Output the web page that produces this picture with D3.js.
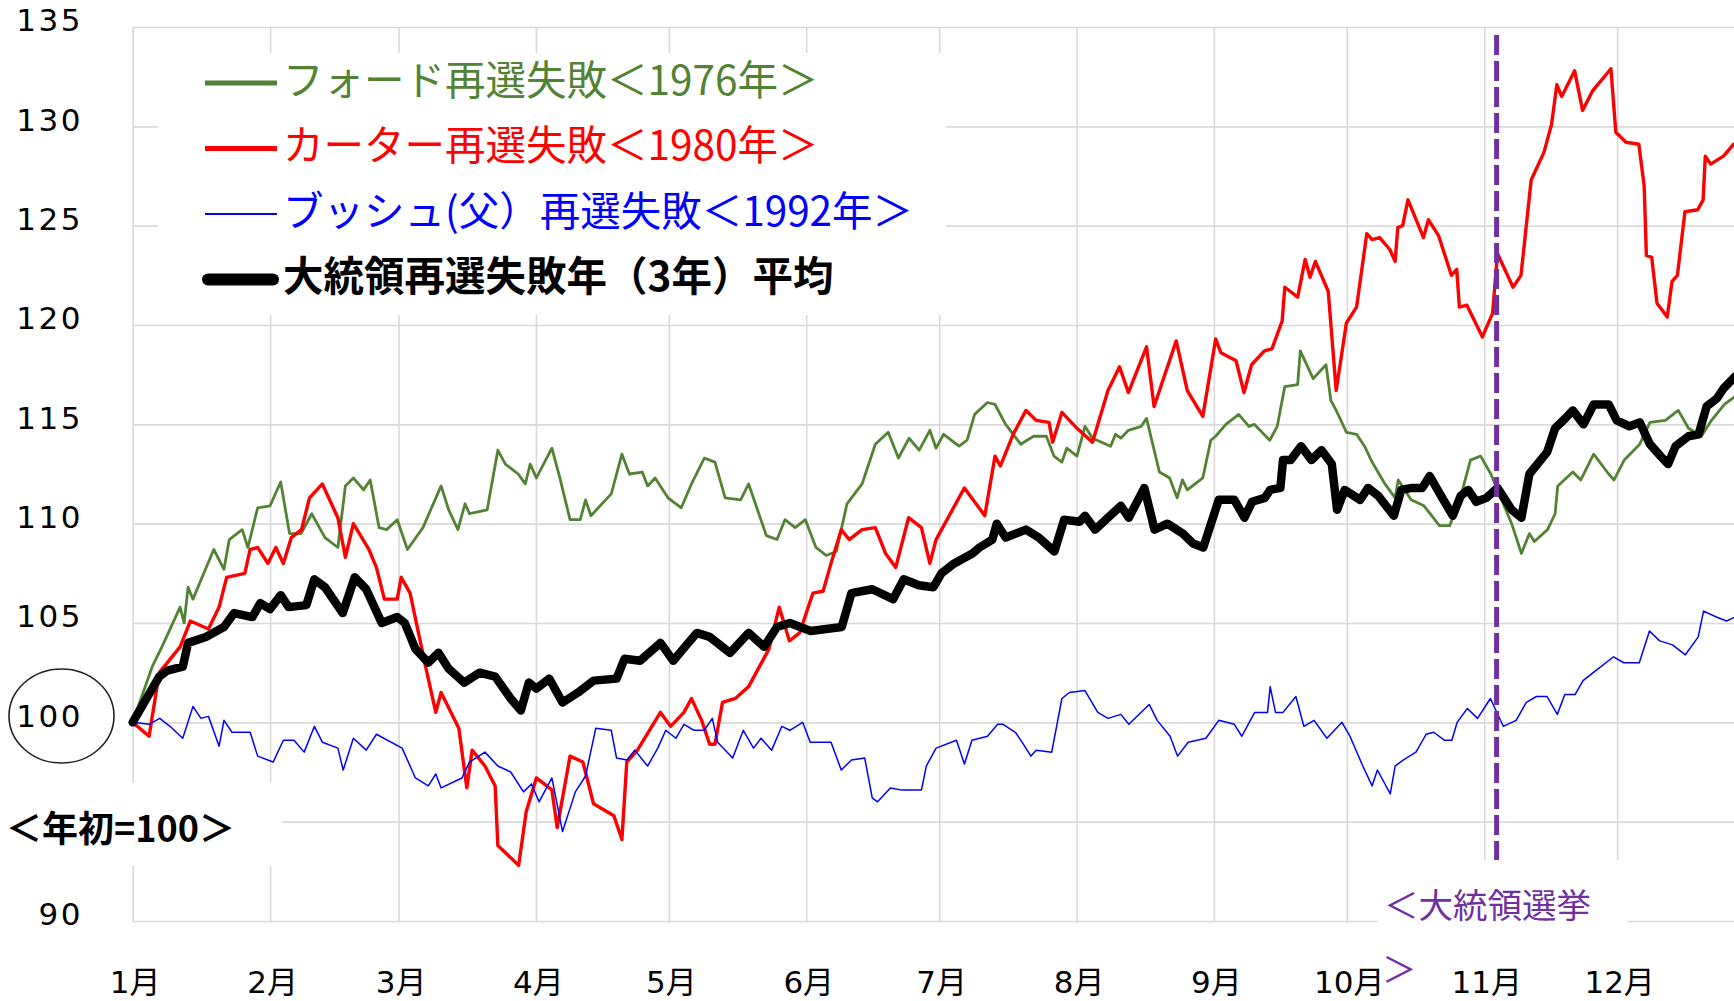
<!DOCTYPE html>
<html lang="ja">
<head>
<meta charset="utf-8">
<title>大統領再選失敗年の株価推移</title>
<script src="https://cdn.jsdelivr.net/npm/d3@7"></script>
<style>
  body { margin: 0; background: #fff; }
  svg { display: block; }
  .grid line { stroke: #d9d9d9; stroke-width: 1.6px; }
  .grid path { display: none; }
  .tick-label text { font-family: "DejaVu Sans", "Noto Sans CJK JP", sans-serif; font-size: 31px; fill: #000; }
  .legend text { font-family: "Noto Sans CJK JP", sans-serif; font-size: 40.5px; }
</style>
</head>
<body>
<svg id="chart" width="1734" height="1001"></svg>
<script>
// month ticks (day of year, leap years)
const monthLabels = ["1月", "2月", "3月", "4月", "5月", "6月", "7月", "8月", "9月", "10月", "11月", "12月"];
const monthStartDays = [0, 31, 60, 91, 121, 152, 182, 213, 244, 274, 305, 335];
const yGridTicks = [90, 95, 100, 105, 110, 115, 120, 125, 130, 135];
const yLabelTicks = [90, 100, 105, 110, 115, 120, 125, 130, 135];
const electionDay = 307.8;

// [day of year, index (start of year = 100)]
const ford1976 = [[0,100],[4.4,102.8],[6.6,103.8],[10.7,105.8],[11.6,105],[12.5,106.8],[13.6,106.2],[18.3,108.7],[20.6,107.7],[21.8,109.2],[24.7,109.7],[26,108.8],[28.2,110.8],[31,110.9],[33.4,112.1],[35.4,109.5],[38,109.5],[40.4,110.5],[43.4,109.3],[46.3,108.8],[48,111.9],[49.8,112.3],[52.1,111.7],[53.6,112.2],[55.6,109.8],[57.3,109.7],[59.7,110.2],[62,108.7],[65.5,109.8],[69.6,111.9],[71.3,110.7],[73.4,109.7],[75,111],[76,110.5],[80,110.7],[82.4,113.7],[84.1,113],[87,112.5],[88.6,112],[89.7,113],[91.1,112.3],[94.6,113.8],[96.4,112.3],[98.7,110.2],[101,110.2],[102.2,111.2],[103.4,110.4],[108,111.5],[110.4,113.5],[112.1,112.5],[115,112.6],[116.2,111.9],[117.9,112.3],[120.8,111.3],[123.8,110.8],[126.1,112],[129,113.3],[131.4,113.1],[133.7,111.3],[137.2,111.2],[139,112],[143,109.4],[145.4,109.2],[147.2,110.2],[149.5,109.8],[151.8,110.2],[154.2,108.8],[156.5,108.4],[158.8,108.6],[161.2,111],[164.6,112],[167.6,114],[170.5,114.6],[172.8,113.3],[175.2,114.3],[177.5,113.7],[179.9,114.7],[181.3,113.8],[183,114.5],[186.5,113.9],[188.3,114.2],[190,115.5],[192.9,116.1],[194.6,116],[197,115],[200.4,114],[203.3,114.4],[206.2,114.4],[207.9,113.4],[209.7,113.1],[210.8,113.8],[213.1,113.4],[214.9,114.9],[216.6,114.3],[220.7,113.9],[221.8,114.5],[223,114.3],[224.7,114.7],[227.6,114.9],[228.8,115.3],[231.7,112.6],[234,112.3],[235.7,111.3],[236.9,112.2],[238,111.7],[241.5,112.3],[243.3,114.2],[244.4,114.4],[246.7,115],[249.6,115.5],[251.9,114.9],[253.1,115],[256.6,114.2],[258.3,114.9],[260,116.9],[262.9,117],[263.5,118.7],[266.4,117.3],[269.3,118],[270.4,116.2],[271.6,115.7],[273.9,114.6],[276.2,114.5],[278,113.9],[279.7,113.1],[282.6,112],[284.9,111.3],[285.6,112.2],[288.5,111.2],[291.4,110.9],[294.9,109.9],[297.2,109.9],[299.5,111.2],[301.9,113.2],[304.2,113.4],[306.5,112.5],[308,111.7],[311.2,110],[313.4,108.5],[315.2,109.5],[316.3,109.1],[319.3,109.7],[321,110.5],[321.6,111.9],[325,112.6],[326.8,112.2],[329.7,113.5],[333.1,112.5],[334.3,112.2],[336.6,113.2],[340.1,114],[342.4,115.1],[345.9,115.2],[348.8,115.7],[351.1,114.8],[354,114.4],[356.3,115.2],[359.2,116],[361.6,116.4]];

const carter1980 = [[0,100],[3.7,99.3],[6,102.5],[10.7,103.8],[13,105.1],[17.1,104.7],[19.5,105.8],[21.2,107.3],[25.3,107.5],[26.5,108.7],[28.2,108.8],[30.5,108],[32.3,108.8],[34,108],[35.8,109.3],[38.1,109.7],[39.9,111.3],[42.8,112],[46.3,110.3],[48,108.3],[49.8,110],[53.3,108.7],[55,107.8],[56.8,106.2],[59.7,106.2],[60.6,107.3],[62.6,106.5],[66.1,102.8],[68.4,100.5],[69.6,101.5],[73.6,99.7],[75.4,96.7],[76.6,98.6],[79.5,97.8],[81.8,96.8],[82.4,93.8],[87.1,92.8],[88.8,95.5],[91.1,97.2],[94.6,96.6],[95.8,94.7],[98.7,98.3],[101.6,98],[104,95.9],[108.6,95.3],[110.4,94.1],[111.5,98],[113.9,98.6],[119.1,100.5],[121.4,99.8],[124.4,100.5],[126.1,101.2],[128.4,100.1],[130.2,98.9],[131.4,98.9],[133.1,101],[136,101.2],[139,101.8],[143.6,103.7],[145.9,105.8],[148.2,104.1],[150.5,104.5],[153.5,106.5],[155.8,106.6],[157.6,108],[159.9,109.7],[161.7,109.2],[164.6,109.7],[167.6,109.8],[169.9,108.5],[172.2,107.8],[175.1,110.3],[178,109.8],[179.9,108],[181.3,109.2],[187.7,111.8],[192.3,110.4],[194.6,113.4],[195.8,112.9],[198.7,114.5],[201.6,115.7],[203.9,115.2],[206.8,115.1],[207.6,114.1],[209.7,115.6],[213.1,114.8],[216.6,114.1],[220.1,116.7],[222.7,117.9],[224.7,116.6],[228.8,118.9],[230.5,115.9],[235.5,119.2],[238,116.7],[241.5,115.4],[244.4,119.3],[245.6,118.6],[249,118.2],[250.8,116.6],[252.5,118],[255.4,118.7],[257.1,118.8],[259.4,120.2],[260,121.9],[262.9,121.4],[264.6,123.3],[265.7,122.4],[266.9,123.2],[269.8,121.7],[271.6,116.7],[273.9,120.1],[276.2,120.9],[278.5,124.6],[279.7,124.3],[281.4,124.4],[283.7,123.8],[284.9,123.2],[285.5,124.9],[286.6,125],[287.8,126.3],[291.3,124.4],[292.4,125.3],[294.7,124.5],[297.6,122.5],[298.8,122.8],[299.4,120.9],[301.1,121],[304.6,119.4],[306.9,120.6],[308,123.6],[311.5,121.9],[313.3,122.5],[315.6,127.3],[318.5,128.7],[320.2,130.1],[321.4,132.1],[322.5,131.5],[325.4,132.8],[327.2,130.8],[329.5,131.8],[333.6,132.9],[334.7,129.7],[337,129.2],[339.9,129.1],[341.1,127],[341.6,123.5],[342.8,123.4],[344,121.1],[346.3,120.4],[347.4,122.2],[348.6,122.5],[350.3,125.7],[353.2,125.8],[354.4,126.3],[354.9,128.5],[356.1,128.1],[359,128.5],[361.3,129.1]];

const bush1992 = [[0,100],[3.7,99.9],[6.1,100.2],[8.4,99.8],[11.3,99.2],[13.6,100.8],[15.4,100.2],[17.1,100.3],[19.5,98.8],[20.6,100.1],[22.4,99.5],[26.5,99.5],[28.2,98.3],[31.7,98],[34,99.1],[36.4,99.1],[38.7,98.5],[41,99.8],[42.8,99],[46.3,98.7],[47.5,97.6],[49.8,99.2],[52.7,98.6],[55,99.4],[60.8,98.7],[63.8,97.2],[66.7,96.8],[68.4,97.4],[69.6,96.7],[74.3,97.2],[76,98],[79.5,98.5],[82.4,97.8],[85.3,97.5],[88.2,96.5],[90,96.9],[91.7,96],[94.6,97.2],[97,94.5],[99.9,96.5],[102.2,97.3],[104.5,99.7],[108,99.6],[109.2,98.2],[111.5,98.1],[113.3,98.6],[116.2,97.8],[118.5,98.7],[120.3,99.6],[122.6,99.2],[124.4,99.9],[126.7,99.6],[129,99.6],[130.8,100.2],[132,99],[135.4,98.2],[137.8,99.6],[140.1,98.7],[141.8,99.2],[144.2,98.6],[146.5,99.8],[148.3,99.6],[151.2,100],[152.9,99],[157.6,99],[159.9,97.6],[162.2,98.1],[165.2,98.2],[166.9,96.2],[168.1,96],[171,96.7],[173.3,96.6],[178,96.6],[179.1,97.8],[181.3,98.7],[185.9,99.1],[187.7,97.9],[189.4,99.1],[192.9,99.3],[195.2,99.9],[196.4,99.9],[199.2,99.5],[201,98.9],[202.7,98.3],[203.9,98.6],[207.4,98.5],[209.7,101.2],[211.4,101.5],[214.9,101.6],[217.8,100.5],[220.1,100.2],[223,100.4],[224.8,99.9],[229.4,100.9],[231.2,100.1],[234.1,99.3],[235.8,98.3],[238.2,99],[242.2,99.2],[245.1,100.1],[248.6,99.9],[250.3,99.3],[253.2,100.5],[256.1,100.5],[256.7,101.8],[257.9,100.5],[259.6,100.5],[262.5,101.3],[264.3,99.8],[266.6,100.1],[269.5,99.2],[272.9,100],[274.7,99.3],[277.6,97.8],[279.7,96.8],[280.9,97.6],[283.8,96.4],[284.9,97.8],[286.7,98.1],[289.6,98.5],[291.9,99.4],[293.6,99.5],[296,99.1],[297.7,99.1],[298.9,100],[301.2,100.7],[303.5,100.2],[306.4,101.2],[309.3,99.8],[312.2,100.1],[314.5,101],[316.8,101.3],[319.2,101.3],[321.5,100.4],[323.2,101.4],[325.5,101.4],[327.3,102.1],[329.6,102.5],[334.2,103.3],[336.5,103],[340,103],[342.3,104.6],[344.6,104.1],[347.5,103.9],[350.4,103.4],[353.3,104.3],[354.5,105.6],[357.4,105.3],[359.7,105.1],[361.6,105.3]];

const average3 = [[0,100],[2.6,101],[6,102.3],[7.8,102.6],[11.3,102.8],[12.5,104],[16.5,104.3],[20.6,104.8],[22.9,105.5],[27,105.3],[28.8,106],[31,105.7],[33.4,106.4],[35.2,105.8],[39.2,105.9],[41,107.2],[43.4,106.8],[47.4,105.5],[50.1,107.3],[52.7,106.7],[56.2,105],[59.7,105.3],[61.4,105],[63.8,103.7],[66.7,103],[69,103.5],[71.3,102.7],[74.8,102],[78.3,102.5],[81.8,102.3],[85.3,101.2],[87.6,100.6],[89.4,102],[91.1,101.7],[94,102.2],[97,101],[100.5,101.5],[104,102.1],[109.2,102.2],[111,103.2],[114.5,103.1],[119.1,104],[122,103.1],[125,103.9],[127.3,104.5],[130.2,104.3],[134.8,103.5],[139,104.5],[142.5,103.8],[145.4,104.8],[148.3,105],[153,104.6],[160,104.8],[162.2,106.5],[166.9,106.7],[171.6,106.2],[174,107.2],[177.4,106.9],[180.7,106.8],[182.5,107.5],[185.4,108],[189.5,108.5],[191.1,108.8],[194,109.2],[195,110],[197,109.3],[201.6,109.7],[204.5,109.3],[208,108.6],[210.2,110.2],[213.7,110.1],[214.9,110.4],[217.2,109.7],[220.1,110.3],[223,110.9],[224.8,110.3],[228.3,111.8],[230.6,109.7],[233.5,110],[237,109.5],[239.3,109],[241.6,108.8],[245.1,111.2],[248.6,111.2],[250.9,110.3],[252.6,111.1],[255.5,111.3],[256.7,111.7],[259,111.8],[259.6,113.2],[261.3,113.2],[263.7,113.9],[266,113.2],[268.3,113.7],[270.6,113],[271.8,110.7],[273.5,111.7],[277,111.2],[278.8,111.8],[281.1,111.4],[284.6,110.4],[286.3,111.7],[288.7,111.8],[291,111.8],[292.7,112.4],[295,111.5],[297.9,110.4],[299.7,111.4],[301.4,111.7],[303.2,111.1],[305.5,111.3],[308,111.8],[311.2,110.7],[313.4,110.3],[315.2,112.5],[319.2,113.6],[321,114.8],[323.3,115.3],[325,115.7],[327.4,115],[329.7,116],[333.1,116],[334.9,115.2],[337.8,114.9],[340.1,115.1],[342.4,114],[344.8,113.4],[346.5,113],[348.2,113.9],[351.1,114.4],[353.4,114.5],[355.2,115.9],[357.5,116.3],[359,116.8],[361.6,117.4]];

const series = [
  { name: "フォード再選失敗＜1976年＞", data: ford1976, color: "#548235", width: 2.8, legendWidth: 5, bold: false },
  { name: "カーター再選失敗＜1980年＞", data: carter1980, color: "#ff0000", width: 3.4, legendWidth: 5, bold: false },
  { name: "ブッシュ(父）再選失敗＜1992年＞", data: bush1992, color: "#0000ff", width: 1.5, legendWidth: 2, bold: false },
  { name: "大統領再選失敗年（3年）平均", data: average3, color: "#000000", width: 8.5, legendWidth: 12, bold: true }
];

const svg = d3.select("#chart");
const W = +svg.attr("width");

const x = d3.scaleLinear().domain([0, 366]).range([132.7, 1754.5]);
const y = d3.scaleLinear().domain([90, 135]).range([921, 27]);

// grid
svg.append("g")
   .attr("class", "grid")
   .attr("transform", `translate(0,${y(90)})`)
   .call(d3.axisBottom(x).tickValues(monthStartDays).tickSize(-(y(90) - y(135))).tickFormat(""));

svg.append("g")
   .attr("class", "grid")
   .attr("transform", `translate(${x(0)},0)`)
   .call(d3.axisLeft(y).tickValues(yGridTicks).tickSize(-(W - x(0))).tickFormat(""));

// white boxes behind text (cover the grid like the original text boxes)
svg.append("rect").attr("x", 158).attr("y", 53).attr("width", 788).attr("height", 262).attr("fill", "#fff");
svg.append("rect").attr("x", 0).attr("y", 783).attr("width", 282).attr("height", 83).attr("fill", "#fff");

// axis labels
svg.append("g")
   .attr("class", "tick-label")
   .attr("transform", `translate(2,${y(90)})`)
   .call(d3.axisBottom(x).tickValues(monthStartDays).tickFormat((d, i) => monthLabels[i]).tickSize(0).tickPadding(50))
   .call(g => g.select(".domain").remove());

svg.append("g")
   .attr("class", "tick-label")
   .attr("transform", "translate(83,-6)")
   .call(d3.axisLeft(y).tickValues(yLabelTicks).tickSize(0).tickPadding(0))
   .call(g => g.select(".domain").remove())
   .selectAll("text").attr("letter-spacing", 2.5);

svg.append("ellipse")
   .attr("cx", 61.5).attr("cy", 716).attr("rx", 52.5).attr("ry", 47)
   .attr("fill", "none").attr("stroke", "#222").attr("stroke-width", 1.6);

svg.append("text")
   .attr("x", 6).attr("y", 826)
   .attr("dominant-baseline", "central")
   .style("font-family", "'Noto Sans CJK JP', sans-serif")
   .style("font-size", "36px").style("font-weight", 700)
   .text("＜年初=100＞");

// lines
const line = d3.line().x(d => x(d[0])).y(d => y(d[1]));

svg.selectAll("path.series")
   .data(series)
   .enter()
   .append("path")
   .attr("class", "series")
   .attr("d", d => line(d.data))
   .attr("fill", "none")
   .attr("stroke", d => d.color)
   .attr("stroke-width", d => d.width)
   .attr("stroke-linejoin", "round")
   .attr("stroke-linecap", "round");

// election marker
svg.append("line")
   .attr("x1", x(electionDay)).attr("x2", x(electionDay))
   .attr("y1", y(134.6)).attr("y2", y(93))
   .attr("stroke", "#7030a0").attr("stroke-width", 5)
   .attr("stroke-dasharray", "20 6");

svg.append("rect").attr("x", 1378).attr("y", 860).attr("width", 250).attr("height", 80).attr("fill", "#fff");

const note = svg.append("g")
   .style("font-family", "'Noto Sans CJK JP', sans-serif")
   .style("font-size", "34.5px")
   .attr("fill", "#7030a0");
note.append("text").attr("x", 1384).attr("y", 903).attr("dominant-baseline", "central").text("＜大統領選挙");
note.append("text").attr("x", 1382).attr("y", 967).attr("dominant-baseline", "central").text("＞");

// legend
const legend = svg.append("g").attr("class", "legend");
const rows = legend.selectAll("g")
   .data(series)
   .enter()
   .append("g")
   .attr("transform", (d, i) => `translate(0,${83 + i * 65.5})`);

rows.append("line")
    .attr("x1", d => d.bold ? 208 : 205).attr("x2", d => d.bold ? 273 : 277)
    .attr("stroke", d => d.color)
    .attr("stroke-width", d => d.legendWidth)
    .attr("stroke-linecap", d => d.bold ? "round" : "butt");

rows.append("text")
    .attr("x", 283).attr("y", -6)
    .attr("dominant-baseline", "central")
    .attr("fill", d => d.color)
    .style("font-weight", d => d.bold ? 700 : 400)
    .text(d => d.name);
</script>
</body>
</html>
